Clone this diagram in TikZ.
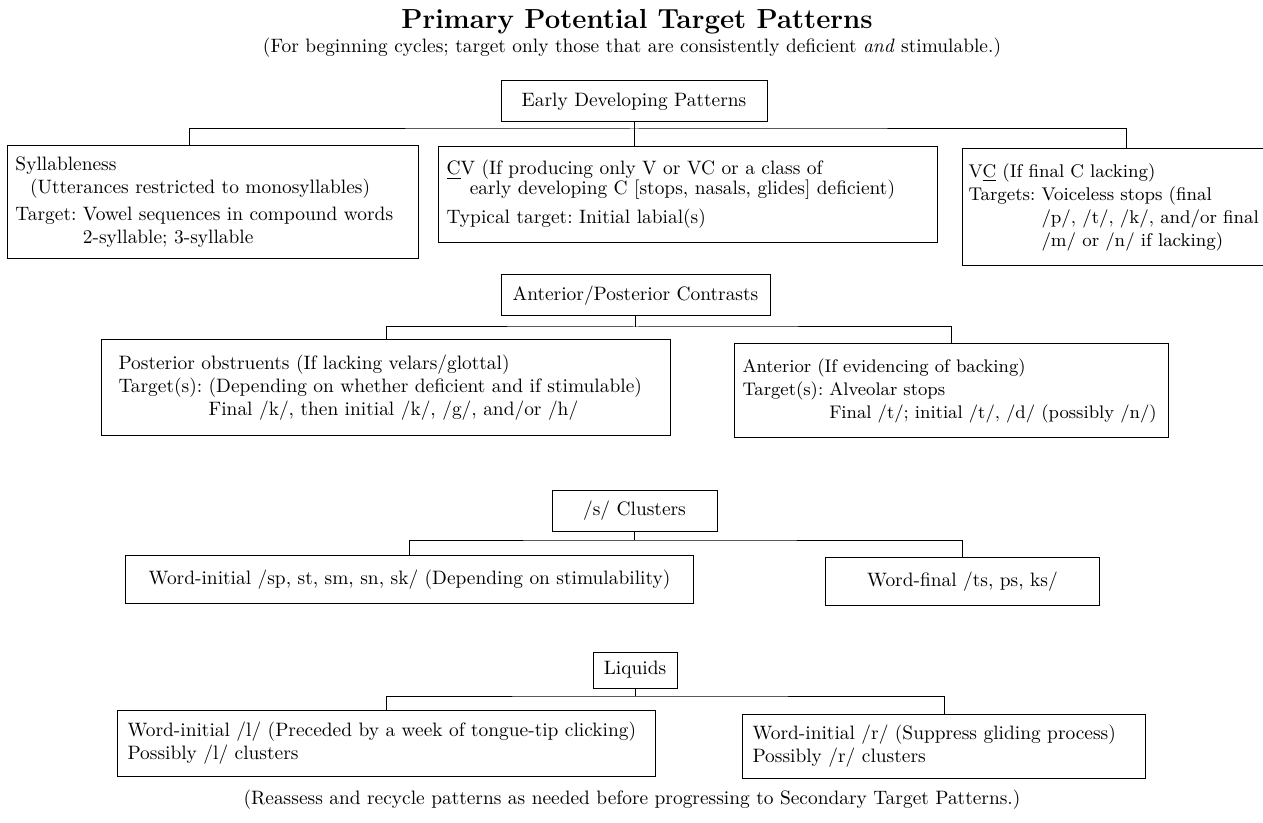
\documentclass[tikz,border=0pt]{standalone}
\begin{document}
\begin{tikzpicture}[x=0.5pt,y=-0.5pt,line width=0.5pt,
    font=\fontsize{9.7}{11.5}\selectfont\frenchspacing,
    tbox/.style={draw,anchor=north west,align=left,inner ysep=0pt},
    hbox/.style={draw,inner sep=0pt,minimum height=20.5pt}]
\clip (0,0) rectangle (1263,823);

\node[anchor=base,font=\fontsize{13.8}{16}\selectfont\bfseries] (ttl) at (637,29) {Primary Potential Target Patterns};
\node[anchor=base] (sub) at (632,53) {(For beginning cycles; target only those that are consistently deficient \emph{and} stimulable.)};

\node[hbox,minimum width=133pt] (edp) at (634,101.5) {Early Developing Patterns};
\node[tbox,inner xsep=4pt,text width=197.5pt,minimum height=56.5pt] (syl) at (7,145)
    {Syllableness\\
     \hspace*{0.75em}(Utterances restricted to monosyllables)\\[2pt]
     Target: Vowel sequences in compound words\\
     \phantom{Target: }2-syllable; 3-syllable};
\node[tbox,inner xsep=4pt,text width=241.5pt,minimum height=48pt] (cv) at (438,146)
    {\underline{C}V (If producing only V or VC or a class of\\[-1.5pt]
     \hspace*{1.2em}early developing C [stops, nasals, glides] deficient)\\[3pt]
     Typical target: Initial labial(s)};
\node[tbox,inner xsep=3pt,text width=158pt,minimum height=58.5pt,
      font=\fontsize{9.2}{11.5}\selectfont\frenchspacing] (vc) at (962,148)
    {V\underline{C} (If final C lacking)\\
     Targets: Voiceless stops (final\\
     \phantom{Targets: }/p/, /t/, /k/, and/or final\\
     \phantom{Targets: }/m/ or /n/ if lacking)};

\draw (edp.south) -- (edp.south |- cv.north);
\coordinate (bus) at (634,129);
\draw ([xshift=-12pt]syl.north) |- (bus) -| (vc.north);

\node[hbox,minimum width=134.5pt] (ap) at (635.5,295.5) {Anterior/Posterior Contrasts};
\node[tbox,inner xsep=8.5pt,text width=267.5pt,minimum height=48pt] (post) at (101,339)
    {Posterior obstruents (If lacking velars/glottal)\\
     Target(s): (Depending on whether deficient and if stimulable)\\
     \phantom{Target(s): }Final /k/, then initial /k/, /g/, and/or /h/};
\node[tbox,inner xsep=4pt,text width=209pt,minimum height=47pt,
      font=\fontsize{9.1}{11.5}\selectfont\frenchspacing] (ant) at (734,343)
    {Anterior (If evidencing of backing)\\
     Target(s): Alveolar stops\\
     \phantom{Target(s): }Final /t/; initial /t/, /d/ (possibly /n/)};

\node[hbox,minimum width=82.5pt] (sc) at (634.5,510.5) {/s/ Clusters};
\node[tbox,align=center,inner xsep=4pt,text width=276pt,minimum height=24pt] (swi) at (125,555)
    {Word-initial /sp, st, sm, sn, sk/ (Depending on stimulability)};
\node[tbox,align=center,inner xsep=4pt,text width=129pt,minimum height=24pt] (swf) at (825,557)
    {Word-final /ts, ps, ks/};

\node[hbox,minimum width=42pt,minimum height=18pt] (liq) at (635,670) {Liquids};
\node[tbox,inner xsep=5pt,text width=259pt,minimum height=33pt] (lwi) at (117,710)
    {Word-initial /l/ (Preceded by a week of tongue-tip clicking)\\
     Possibly /l/ clusters};
\node[tbox,inner xsep=5pt,text width=191.5pt,minimum height=32pt] (lwr) at (742,714)
    {Word-initial /r/ (Suppress gliding process)\\
     Possibly /r/ clusters};

\foreach \p/\l/\r/\y in {ap/post/ant/327,sc/swi/swf/540,liq/lwi/lwr/696}
{
    \coordinate (bus) at (\p.south |- 0,\y);
    \draw (\p.south) -- (bus);
    \draw (\l.north) |- (bus) -| (\r.north);
}

\node[anchor=base] (note) at (632,804) {(Reassess and recycle patterns as needed before progressing to Secondary Target Patterns.)};
\end{tikzpicture}
\end{document}
